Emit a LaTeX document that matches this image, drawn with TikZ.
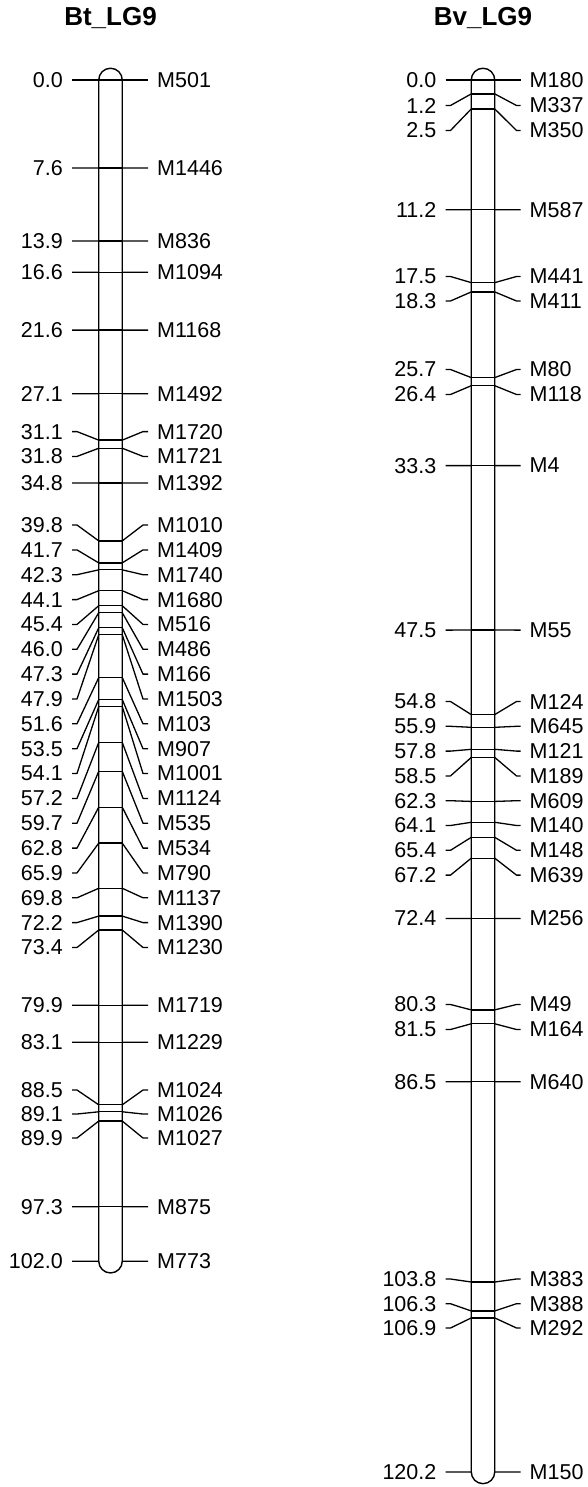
\documentclass[tikz,border=0pt]{standalone}
\usepackage{fontspec}
\setmainfont{Liberation Sans}
\begin{document}
\begin{tikzpicture}[x=1pt,y=-1pt,
  numlbl/.style={anchor=east, inner sep=0pt, font=\fontsize{21.5}{25}\selectfont},
  mklbl/.style={anchor=west, inner sep=0pt, font=\fontsize{21.5}{25}\selectfont},
  ttl/.style={anchor=base, inner sep=0pt, font=\bfseries\fontsize{26}{30}\selectfont},
  link/.style={line width=1.3pt, line join=round},
  chrom/.style={line width=1.4pt}]
\useasboundingbox (0,0) rectangle (587,1487);

% titles
\node[ttl] (t1) at (110.5,26) {Bt\_LG9};
\node[ttl] (t2) at (483,26) {Bv\_LG9};

% chromosome bodies
\draw[chrom] (98.75,80) -- (98.75,1261.2) arc (180:0:11.75) -- (122.25,80) arc (0:-180:11.75) -- cycle;
\draw[chrom] (471.25,80) -- (471.25,1471.9) arc (180:0:11.75) -- (494.75,80) arc (0:-180:11.75) -- cycle;

% Bt_LG9 markers
\foreach \p/\ly/\m [count=\i] in {0.0/80/M501, 7.6/168/M1446, 13.9/241/M836, 16.6/272.2/M1094,
  21.6/330.1/M1168, 27.1/393.8/M1492, 31.1/431.6/M1720, 31.8/456.4/M1721, 34.8/483/M1392,
  39.8/525/M1010, 41.7/549.9/M1409, 42.3/574.7/M1740, 44.1/599.6/M1680, 45.4/624.4/M516,
  46.0/649.3/M486, 47.3/674.1/M166, 47.9/699/M1503, 51.6/723.8/M103, 53.5/748.7/M907,
  54.1/773.5/M1001, 57.2/798.4/M1124, 59.7/823.2/M535, 62.8/848.1/M534, 65.9/872.9/M790,
  69.8/897.8/M1137, 72.2/922.6/M1390, 73.4/947.5/M1230, 79.9/1005.2/M1719, 83.1/1042.3/M1229,
  88.5/1090/M1024, 89.1/1114/M1026, 89.9/1138/M1027, 97.3/1206.7/M875, 102.0/1261.2/M773} {
  \pgfmathsetmacro\ay{80+11.58*\p}
  \node[numlbl] (LA\i) at (63,\ly) {\p};
  \node[mklbl] (RA\i) at (157,\ly) {\m};
  \draw[link] ([xshift=9pt]LA\i.east) -- ++(5,0) -- (98.75,\ay);
  \draw[link] (122.25,\ay) -- (143,\ly) -- ([xshift=-9pt]RA\i.west);
  \ifnum\i<34 \draw[link] (98.75,\ay) -- (122.25,\ay); \fi
}

% Bv_LG9 markers
\foreach \p/\ly/\m [count=\i] in {0.0/80/M180, 1.2/105.5/M337, 2.5/130.5/M350, 11.2/209.7/M587,
  17.5/276.5/M441, 18.3/301/M411, 25.7/369.5/M80, 26.4/394.5/M118, 33.3/465.6/M4,
  47.5/630.1/M55, 54.8/701.5/M124, 55.9/726.3/M645, 57.8/751.1/M121, 58.5/775.9/M189,
  62.3/800.7/M609, 64.1/825.5/M140, 65.4/850.3/M148, 67.2/875.1/M639, 72.4/918.4/M256,
  80.3/1004.5/M49, 81.5/1029.5/M164, 86.5/1081.7/M640, 103.8/1279/M383, 106.3/1303.7/M388,
  106.9/1328/M292, 120.2/1471.9/M150} {
  \pgfmathsetmacro\ay{80+11.58*\p}
  \node[numlbl] (LB\i) at (436.5,\ly) {\p};
  \node[mklbl] (RB\i) at (529.5,\ly) {\m};
  \draw[link] ([xshift=9pt]LB\i.east) -- ++(5,0) -- (471.25,\ay);
  \draw[link] (494.75,\ay) -- (516.5,\ly) -- ([xshift=-9pt]RB\i.west);
  \ifnum\i<26 \draw[link] (471.25,\ay) -- (494.75,\ay); \fi
}
\end{tikzpicture}
\end{document}
